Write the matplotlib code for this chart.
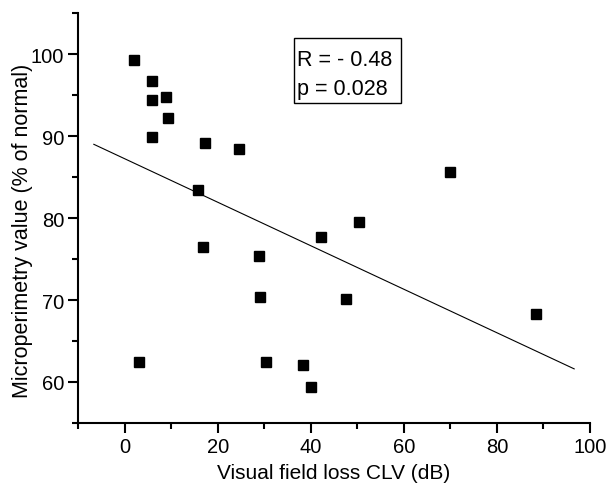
import matplotlib
matplotlib.use("Agg")
import matplotlib.pyplot as plt
from matplotlib.patches import Rectangle
from matplotlib.ticker import MultipleLocator

plt.rcParams["font.family"] = ["Liberation Sans", "DejaVu Sans"]

# valores
clv = [2.0, 5.9, 5.9, 9.0, 9.4, 5.9, 17.2, 24.5, 15.7, 16.8, 28.8,
       42.1, 50.4, 29.2, 47.6, 30.3, 38.4, 40.1, 3.1, 70.0, 88.3]
micro = [99.3, 96.7, 94.4, 94.8, 92.2, 89.9, 89.2, 88.4, 83.4, 76.5, 75.4,
         77.7, 79.5, 70.4, 70.1, 62.4, 62.1, 59.4, 62.4, 85.6, 68.3]
fit_x = [-6.6, 96.6]
fit_y = [89.0, 61.6]
stats = ["R = - 0.48", "p = 0.028"]

fig = plt.figure(figsize=(6.07, 4.89), dpi=100)
ax = fig.add_axes([0.1285, 0.133, 0.8435, 0.838])

ax.plot(fit_x, fit_y, color="black", lw=0.8)
ax.plot(clv, micro, "s", color="black", ms=6.5, mec="black")

ax.set_xlim(-10, 100)
ax.set_ylim(55, 105)
ax.xaxis.set_major_locator(MultipleLocator(20))
ax.xaxis.set_minor_locator(MultipleLocator(10))
ax.yaxis.set_minor_locator(MultipleLocator(5))
ax.set_yticks([60, 70, 80, 90, 100])

for s in ["top", "right"]:
    ax.spines[s].set_visible(False)
for s in ["left", "bottom"]:
    ax.spines[s].set_linewidth(1.5)

ax.tick_params(which="major", direction="out", length=7, width=1.5,
               labelsize=14.5, pad=3)
ax.tick_params(which="minor", direction="out", length=4, width=1.5)

ax.set_xlabel("Visual field loss CLV (dB)", fontsize=15, labelpad=5)
ax.set_ylabel("Microperimetry value (% of normal)", fontsize=15.5)
ax.yaxis.set_label_coords(-0.088, 0.47)

# recuadro con la correlación
ax.add_patch(Rectangle((0.422, 0.780), 0.209, 0.159, transform=ax.transAxes,
                       fill=False, ec="black", lw=1, clip_on=False))
ax.text(0.428, 0.873, stats[0], transform=ax.transAxes, fontsize=15.5,
        va="baseline", ha="left")
ax.text(0.428, 0.802, stats[1], transform=ax.transAxes, fontsize=15.5,
        va="baseline", ha="left")

fig.savefig("out.png", dpi=100, facecolor="white")
